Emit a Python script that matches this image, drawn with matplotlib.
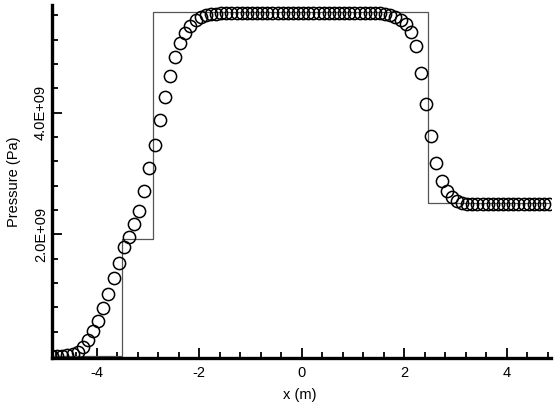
import numpy as np
import matplotlib
matplotlib.use('Agg')
import matplotlib.pyplot as plt
from matplotlib.ticker import FixedLocator, FuncFormatter

plt.rcParams['font.family'] = ['Liberation Sans', 'DejaVu Sans']
plt.rcParams['axes.unicode_minus'] = False

# numerical solution: cell centres on a uniform mesh
x0 = -4.875
dx = 0.1
n_cells = 98

p_left = [0.00, 0.005, 0.01, 0.025, 0.04, 0.07, 0.15, 0.26, 0.41, 0.58,
          0.79, 1.02, 1.28, 1.53, 1.80, 1.96, 2.17, 2.39, 2.72, 3.09,
          3.47, 3.88, 4.26, 4.61, 4.91, 5.14, 5.31, 5.42, 5.52, 5.57,
          5.60, 5.62, 5.63]
p_mid = [5.64, 5.64, 5.64, 5.64, 5.64, 5.64, 5.64, 5.64,
         5.64, 5.64, 5.64, 5.64, 5.64, 5.64, 5.64, 5.64,
         5.64, 5.64, 5.64, 5.64, 5.64, 5.64, 5.64, 5.64,
         5.64, 5.64, 5.64, 5.64, 5.64, 5.64, 5.64, 5.64]
p_right = [5.63, 5.61, 5.58, 5.53, 5.46, 5.33, 5.09, 4.65, 4.14, 3.61,
           3.17, 2.88, 2.71, 2.62, 2.55, 2.52, 2.50, 2.50, 2.50, 2.50,
           2.50, 2.50, 2.50, 2.50, 2.50, 2.50, 2.50, 2.50, 2.50, 2.50,
           2.50, 2.50, 2.50]

# exact solution (piecewise constant)
x_exact = [-4.875, -3.5, -3.5, -2.9, -2.9, 2.47, 2.47, 4.86]
p_exact = [0.0, 0.0, 1.93, 1.93, 5.65, 5.65, 2.52, 2.52]

x_ticks = [-4, -2, 0, 2, 4]
y_ticks = [2.0e9, 4.0e9]

x_num = x0 + dx * np.arange(n_cells)
p_num = np.array(p_left + p_mid + p_right) * 1e9

fig = plt.figure(figsize=(5.59, 4.08), dpi=100)
ax = fig.add_axes([52 / 559, 50 / 408, 499 / 559, 353 / 408])

ax.plot(x_exact, np.array(p_exact) * 1e9, color='#555555', lw=0.9, zorder=2)
ax.plot(x_num, p_num, 'o', mfc='none', mec='black', ms=8.8, mew=1.1, zorder=3)

ax.set_xlim(-4.875, 4.86)
ax.set_ylim(-0.03e9, 5.77e9)

for s in ['top', 'right']:
    ax.spines[s].set_visible(False)
for s in ['left', 'bottom']:
    ax.spines[s].set_linewidth(2.4)

ax.xaxis.set_major_locator(FixedLocator(x_ticks))
ax.xaxis.set_minor_locator(FixedLocator([v for v in np.arange(-4.8, 4.81, 0.4)
                                         if min(abs(v - t) for t in x_ticks) > 1e-6]))
ax.yaxis.set_major_locator(FixedLocator(y_ticks))
ax.yaxis.set_minor_locator(FixedLocator([v * 1e9 for v in np.arange(0.4, 5.61, 0.4)
                                         if min(abs(v * 1e9 - t) for t in y_ticks) > 1]))
ax.yaxis.set_major_formatter(FuncFormatter(lambda v, p: '%.1fE+09' % (v / 1e9)))

ax.tick_params(which='both', direction='in', width=1.3, labelsize=10.5)
ax.tick_params(which='major', length=7)
ax.tick_params(which='minor', length=4)
ax.tick_params(axis='x', pad=6)
ax.tick_params(axis='y', pad=3)
for lbl in ax.get_yticklabels():
    lbl.set_rotation(90)
    lbl.set_va('center')

ax.set_xlabel('x (m)', fontsize=10.5)
ax.set_ylabel('Pressure (Pa)', fontsize=10.5)
ax.xaxis.set_label_coords(0.497, -0.085)
ax.yaxis.set_label_coords(-0.062, 0.5)

fig.savefig('out.png', dpi=100)
